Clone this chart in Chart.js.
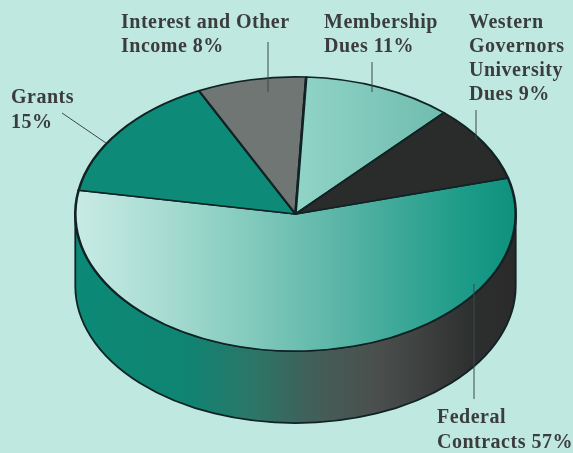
<!DOCTYPE html>
<html>
<head>
<meta charset="utf-8">
<title>Revenue by source</title>
<script src="https://cdn.jsdelivr.net/npm/chart.js@4"></script>
<style>
  html, body { margin: 0; padding: 0; width: 573px; height: 453px; overflow: hidden; background: #bfe8e1; }
  #wrap { position: relative; width: 573px; height: 453px; }
</style>
</head>
<body>
<div id="wrap"><canvas id="pie" width="573" height="453"></canvas></div>
<script>
// Revenue sources, percent of total.
const categories = ['Federal Contracts', 'Grants', 'Interest and Other Income', 'Membership Dues', 'Western Governors University Dues'];
const shares = [57, 15, 8, 11, 9];
const sliceFills = ['federal', '#0d8b78', '#6f7674', 'membership', '#2a2c2b'];

// Callout text, broken the way it is set on the page.
const calloutLines = [
  ['Federal', 'Contracts 57%'],
  ['Grants', '15%'],
  ['Interest and Other', 'Income 8%'],
  ['Membership', 'Dues 11%'],
  ['Western', 'Governors', 'University', 'Dues 9%']
];
const calloutAnchors = [[437, 423], [11, 103], [121, 28], [324, 28], [469, 28]];
const calloutLeading = [25, 25, 24, 24, 24];
const leaders = [
  [[474, 284], [474, 399]],
  [[62, 113], [106, 143]],
  [[268, 42], [268, 92]],
  [[372, 62], [372, 92]],
  [[476, 110], [476, 140]]
];

const FACE_CY = 214;   // vertical centre of the top face
const SQUASH = 137 / 220;
const DEPTH = 72;

function sliceFill(ctx) {
  const g = ctx.chart.ctx;
  const kind = sliceFills[ctx.dataIndex];
  if (kind === 'federal') {
    const grad = g.createLinearGradient(75, 0, 515, 0);
    grad.addColorStop(0, '#c8ebe5');
    grad.addColorStop(0.2, '#a8dcd2');
    grad.addColorStop(0.4, '#82cabd');
    grad.addColorStop(0.6, '#5ab5a7');
    grad.addColorStop(0.75, '#3aa796');
    grad.addColorStop(0.9, '#1a9a87');
    grad.addColorStop(1, '#0f917d');
    return grad;
  }
  if (kind === 'membership') {
    const grad = g.createLinearGradient(300, 0, 440, 0);
    grad.addColorStop(0, '#90d3c7');
    grad.addColorStop(1, '#70bdaf');
    return grad;
  }
  return kind;
}

const tiltedPie = {
  id: 'tiltedPie',
  beforeDatasetsDraw(chart) {
    const g = chart.ctx;
    const arc = chart.getDatasetMeta(0).data[0];
    const x = arc.x, r = arc.outerRadius, ry = r * SQUASH;

    // Side wall below the front half of the disc.
    const wall = g.createLinearGradient(x - r, 0, x + r, 0);
    wall.addColorStop(0, '#0c8a77');
    wall.addColorStop(0.25, '#0f8472');
    wall.addColorStop(0.405, '#2c7668');
    wall.addColorStop(0.495, '#3a665d');
    wall.addColorStop(0.57, '#465b56');
    wall.addColorStop(0.686, '#4a4f4d');
    wall.addColorStop(0.8, '#3c3f3e');
    wall.addColorStop(0.905, '#2d2f2e');
    wall.addColorStop(1, '#2a2a2a');
    g.save();
    g.beginPath();
    g.moveTo(x - r, FACE_CY);
    g.lineTo(x - r, FACE_CY + DEPTH);
    g.ellipse(x, FACE_CY + DEPTH, r, ry, 0, Math.PI, 0, true);
    g.lineTo(x + r, FACE_CY);
    g.ellipse(x, FACE_CY, r, ry, 0, 0, Math.PI, false);
    g.closePath();
    g.fillStyle = wall;
    g.fill();
    g.strokeStyle = '#102224';
    g.lineWidth = 1.8;
    g.stroke();
    g.restore();

    // Flatten the library's circular slices into the top face.
    g.save();
    g.translate(x, FACE_CY);
    g.scale(1, SQUASH);
    g.translate(-x, -arc.y);
  },
  afterDatasetsDraw(chart) {
    const g = chart.ctx;
    g.restore();

    g.save();
    g.strokeStyle = '#3a4a48';
    g.lineWidth = 1;
    leaders.forEach(([a, b]) => {
      g.beginPath();
      g.moveTo(a[0], a[1]);
      g.lineTo(b[0], b[1]);
      g.stroke();
    });
    g.fillStyle = '#3b3d3d';
    g.font = 'bold 20px "Liberation Serif"';
    g.letterSpacing = '0.5px';
    g.textBaseline = 'alphabetic';
    calloutLines.forEach((lines, i) => {
      const [lx, ly] = calloutAnchors[i];
      lines.forEach((t, k) => g.fillText(t, lx, ly + k * calloutLeading[i]));
    });
    g.restore();
  }
};

new Chart(document.getElementById('pie'), {
  type: 'pie',
  data: {
    labels: categories,
    datasets: [{
      data: shares,
      backgroundColor: sliceFill,
      borderColor: '#102224',
      borderWidth: 2.6,
      borderJoinStyle: 'round'
    }]
  },
  options: {
    responsive: false,
    animation: false,
    rotation: 74.8,
    layout: { padding: { left: 74, right: 56, top: 4, bottom: 6 } },
    plugins: { legend: { display: false }, tooltip: { enabled: false } }
  },
  plugins: [tiltedPie]
});
</script>
</body>
</html>
